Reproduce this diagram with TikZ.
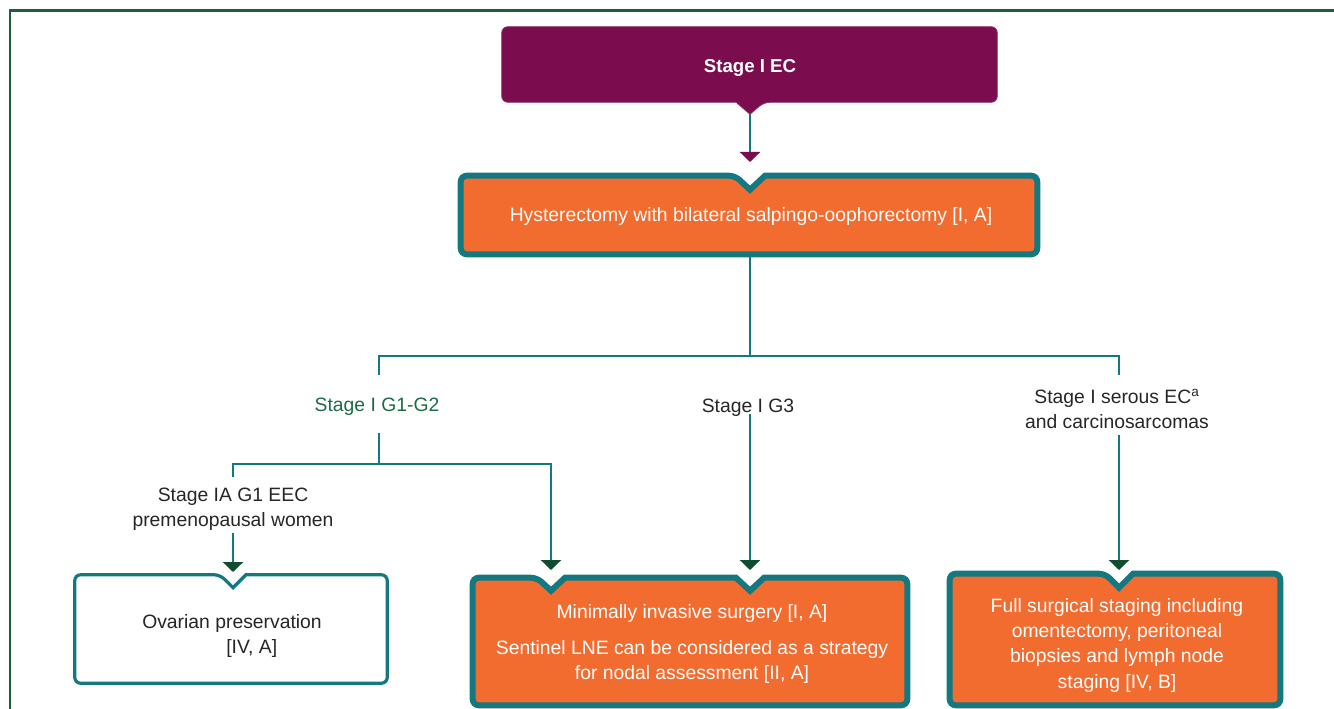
\documentclass[tikz,border=0pt]{standalone}
\usepackage{fontspec}
\setmainfont{Liberation Sans}
\usetikzlibrary{arrows.meta,calc}
\definecolor{ecpurple}{HTML}{7B0D4F}
\definecolor{boxorange}{HTML}{F26C30}
\definecolor{lineteal}{HTML}{147880}
\definecolor{arrowgreen}{HTML}{0E4D2F}
\definecolor{framegreen}{HTML}{1E5E3C}
\definecolor{labelgreen}{HTML}{1B6B47}
\definecolor{textdark}{HTML}{262626}
\tikzset{
  px/.style={x=0.75pt,y=-0.75pt},
  boxnode/.style={draw=none,inner sep=0pt,minimum width=#1},
  obox/.style={fill=boxorange,draw=lineteal,line width=4.5pt,rounded corners=4.5pt},
  wbox/.style={fill=white,draw=lineteal,line width=2.4pt,rounded corners=4.5pt},
  pbox/.style={fill=ecpurple,draw=ecpurple!85!white,line width=0.6pt,rounded corners=4.5pt},
  conn/.style={draw=lineteal,line width=2pt},
  arr/.style={-{Triangle[width=15pt,length=7.5pt,color=arrowgreen]}},
  arrp/.style={-{Triangle[width=15pt,length=7.5pt,color=ecpurple]}},
  frameline/.style={draw=framegreen,line width=2.2pt},
  wtext/.style={text=white,align=center,inner sep=0pt,font=\fontsize{14.5pt}{19pt}\selectfont},
  dtext/.style={text=textdark,align=center,inner sep=0pt,font=\fontsize{14.5pt}{19pt}\selectfont},
  gtext/.style={text=labelgreen,align=center,inner sep=0pt,font=\fontsize{14.5pt}{19pt}\selectfont},
}
\begin{document}
\begin{tikzpicture}[px]
\useasboundingbox (0,0) rectangle (1334,709);
% frame
\draw[frameline] (10,709) -- (10,10.3) -- (1334,10.3);

% box placeholders
\node[boxnode=371.25pt,minimum height=56.25pt] (ec) at (749.5,64.5) {};
\node[boxnode=432pt,minimum height=58.5pt] (h) at (749,215) {};
\node[boxnode=234pt,minimum height=81pt] (ov) at (231,629) {};
\node[boxnode=325.5pt,minimum height=95.25pt] (mis) at (690,641.5) {};
\node[boxnode=247.5pt,minimum height=98.25pt] (fss) at (1115,639.5) {};

% arrow tips and junctions
\coordinate (ecp) at ($(ec.south)+(0.5,12)$);
\coordinate (t0) at (750,162);
\coordinate (j1) at (750,356);
\coordinate (a12) at (379,375);
\coordinate (b12) at (379,433);
\coordinate (j2) at (379,464);
\coordinate (apre) at (233,477);
\coordinate (bpre) at (233,533);
\coordinate (tov) at (233,572);
\coordinate (tmisa) at (551,570);
\coordinate (bg3) at (750,414);
\coordinate (tmisb) at (750,570);
\coordinate (aser) at (1119,375);
\coordinate (bser) at (1119,435);
\coordinate (tfss) at (1119,570);

% shapes
\path[pbox] (ec.west) -- (ec.north west) -- (ec.north east) -- (ec.south east)
  -- ($(ecp|-ec.south)+(14,0)$) [sharp corners] -- (ecp) -- ($(ecp|-ec.south)+(-14,0)$) [rounded corners=4.5pt]
  -- (ec.south west) -- cycle;
\path[obox] (h.west) -- (h.north west) -- ($(t0|-h.north)+(-15,0)$) [sharp corners]
  -- ($(t0|-h.north)+(0,14)$) -- ($(t0|-h.north)+(15,0)$) [rounded corners=4.5pt]
  -- (h.north east) -- (h.south east) -- (h.south west) -- cycle;
\path[wbox] (ov.west) -- (ov.north west) -- ($(tov|-ov.north)+(-13,0)$) [sharp corners]
  -- ($(tov|-ov.north)+(0,13)$) -- ($(tov|-ov.north)+(13,0)$) [rounded corners=4.5pt]
  -- (ov.north east) -- (ov.south east) -- (ov.south west) -- cycle;
\path[obox] (mis.west) -- (mis.north west) -- ($(tmisa|-mis.north)+(-14,0)$) [sharp corners]
  -- ($(tmisa|-mis.north)+(0,13)$) -- ($(tmisa|-mis.north)+(14,0)$)
  -- ($(tmisb|-mis.north)+(-14,0)$)
  -- ($(tmisb|-mis.north)+(0,13)$) -- ($(tmisb|-mis.north)+(14,0)$) [rounded corners=4.5pt]
  -- (mis.north east) -- (mis.south east) -- (mis.south west) -- cycle;
\path[obox] (fss.west) -- (fss.north west) -- ($(tfss|-fss.north)+(-14,0)$) [sharp corners]
  -- ($(tfss|-fss.north)+(0,14)$) -- ($(tfss|-fss.north)+(14,0)$) [rounded corners=4.5pt]
  -- (fss.north east) -- (fss.south east) -- (fss.south west) -- cycle;

% texts
\node[wtext,font=\fontsize{14pt}{18pt}\selectfont\bfseries] (ect) at (750,68) {Stage I EC};
\node[wtext] (ht) at (751,217) {Hysterectomy with bilateral salpingo-oophorectomy [I, A]};
\node[dtext,align=left] (ovt) at (232,636) {Ovarian preservation\\\hspace*{63pt}[IV, A]};
\node[wtext] (mist) at (692,644) {Minimally invasive surgery [I, A]\\[8pt]Sentinel LNE can be considered as a strategy\\for nodal assessment [II, A]};
\node[wtext] (fsst) at (1117,645) {Full surgical staging including\\omentectomy, peritoneal\\biopsies and lymph node\\staging [IV, B]};
\node[gtext] (g12) at (377,407) {Stage I G1-G2};
\node[dtext] (g3) at (748,408) {Stage I G3};
\node[dtext] (ser) at (1117,409) {Stage I serous EC\textsuperscript{a}\\and carcinosarcomas};
\node[dtext] (pre) at (233,509) {Stage IA G1 EEC\\premenopausal women};

% connectors
\draw[conn,arrp] (ecp) -- (t0);
\draw[conn] (j1|-h.south) -- (j1);
\draw[conn] (j1) -| (a12);
\draw[conn] (j1) -| (aser);
\draw[conn] (b12) -- (j2);
\draw[conn] (j2) -| (apre);
\draw[conn,arr] (j2) -| (tmisa);
\draw[conn,arr] (bpre) -- (tov);
\draw[conn,arr] (bg3) -- (tmisb);
\draw[conn,arr] (bser) -- (tfss);
\end{tikzpicture}
\end{document}
